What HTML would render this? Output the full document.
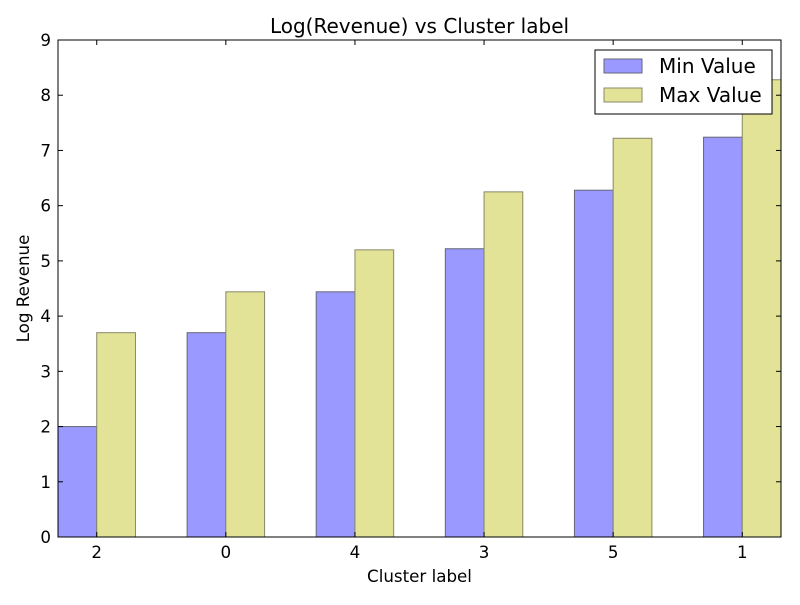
<!DOCTYPE html>
<html><head><meta charset="utf-8"><style>
body{margin:0;background:#fff;}
svg text{font-family:"DejaVu Sans","Liberation Sans",sans-serif;}
</style></head><body>
<svg id="chart" width="800" height="600" xmlns="http://www.w3.org/2000/svg">
<rect width="800" height="600" fill="#fff"/>
<g id="bars"></g>
<g id="axes"></g>
</svg>
<script>
const categories = ["2","0","4","3","5","1"];
const minValues = [2.0, 3.7, 4.44, 5.22, 6.28, 7.24];
const maxValues = [3.7, 4.44, 5.2, 6.25, 7.22, 8.28];
const yTicks = [0,1,2,3,4,5,6,7,8,9];

const L=58,R=781,T=40,B=537;
const xMin=-0.3,xMax=5.3,yMin=0,yMax=9;
const xs=v=>L+(v-xMin)/(xMax-xMin)*(R-L);
const ys=v=>B-(v-yMin)/(yMax-yMin)*(B-T);
const NS="http://www.w3.org/2000/svg";
function mk(tag,attrs,parent){const e=document.createElementNS(NS,tag);for(const k in attrs)e.setAttribute(k,attrs[k]);parent.appendChild(e);return e;}
const bars=document.getElementById('bars'), axes=document.getElementById('axes');
const w=0.3;
categories.forEach((c,i)=>{
  const r1=mk('rect',{x:xs(i-w),y:ys(minValues[i]),width:xs(i)-xs(i-w),height:ys(0)-ys(minValues[i]),fill:'#9999ff',stroke:'#666677','stroke-width':1},bars);
  
  
  const r2=mk('rect',{x:xs(i),y:ys(maxValues[i]),width:xs(i+w)-xs(i),height:ys(0)-ys(maxValues[i]),fill:'#e3e397',stroke:'#888866','stroke-width':1},bars);
  
  
  const tk=mk('line',{x1:xs(i),x2:xs(i),y1:B,y2:B-5,stroke:'#000'},axes);
  
  
  mk('line',{x1:xs(i),x2:xs(i),y1:T,y2:T+5,stroke:'#000'},axes);
  const t=mk('text',{x:xs(i),y:B+21,'text-anchor':'middle','font-size':16.7},axes);
  t.textContent=c;
  
  
});
yTicks.forEach(v=>{
  mk('line',{x1:L,x2:L+5,y1:ys(v),y2:ys(v),stroke:'#000'},axes);
  mk('line',{x1:R,x2:R-5,y1:ys(v),y2:ys(v),stroke:'#000'},axes);
  const t=mk('text',{x:L-7,y:ys(v)+6,'text-anchor':'end','font-size':16.7},axes);
  t.textContent=v;
  
  
});
const fr=mk('rect',{x:L,y:T,width:R-L,height:B-T,fill:'none',stroke:'#000','stroke-width':1},axes);


const ti=mk('text',{x:(L+R)/2,y:33,'text-anchor':'middle','font-size':20},axes);
ti.textContent='Log(Revenue) vs Cluster label';


const xl=mk('text',{x:(L+R)/2,y:582,'text-anchor':'middle','font-size':16.7},axes);
xl.textContent='Cluster label';


const yl=mk('text',{x:0,y:0,'text-anchor':'middle','font-size':16.7,transform:'translate(29,'+((T+B)/2)+') rotate(-90)'},axes);
yl.textContent='Log Revenue';


const lg=mk('g',{},axes);


mk('rect',{x:595,y:50,width:177,height:64,fill:'#fff',stroke:'#000'},lg);
const e1=mk('rect',{x:604,y:59,width:38,height:14,fill:'#9999ff',stroke:'#666677'},lg);


const e2=mk('rect',{x:604,y:88,width:38,height:14,fill:'#e3e397',stroke:'#888866'},lg);


const l1=mk('text',{x:659,y:73,'font-size':20},lg);l1.textContent='Min Value';


const l2=mk('text',{x:659,y:102,'font-size':20},lg);l2.textContent='Max Value';


</script>
</body></html>
